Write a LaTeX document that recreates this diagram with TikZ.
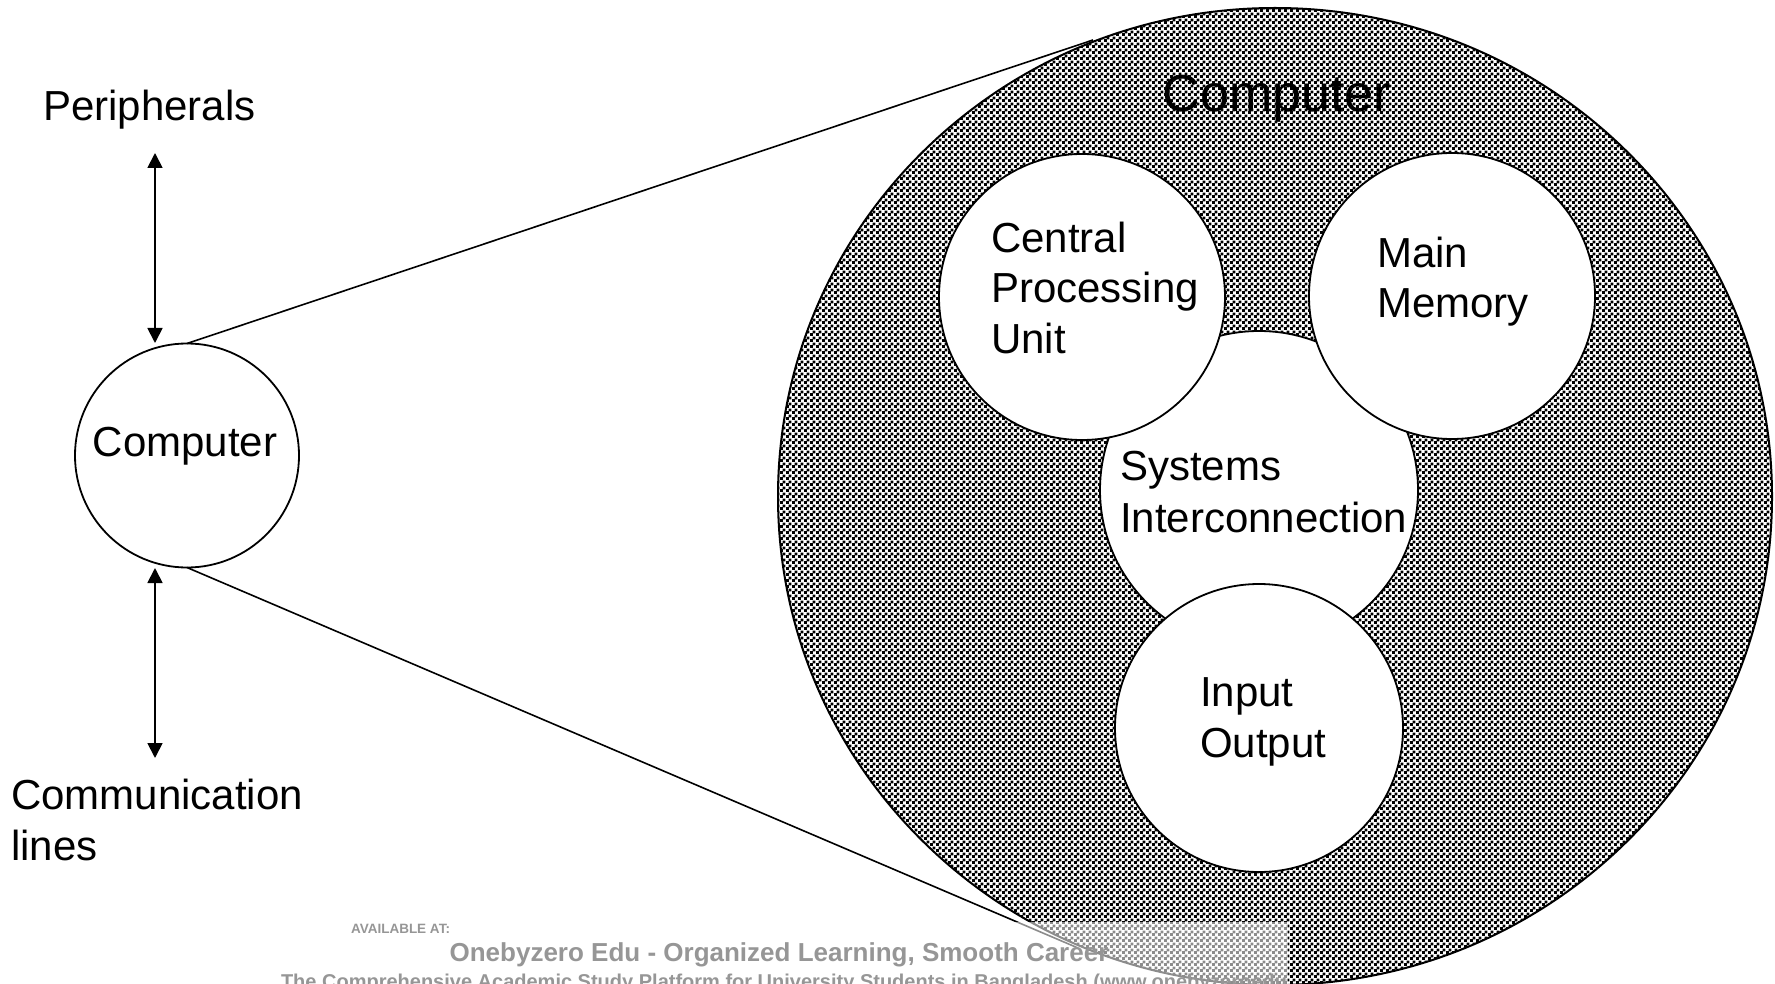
\documentclass[tikz,border=0pt]{standalone}
\usepackage{fontspec}
\setmainfont{Liberation Sans}
\usetikzlibrary{arrows.meta,patterns,shapes.geometric}
\pgfdeclarepatternformonly{checker}{\pgfpointorigin}{\pgfpoint{6pt}{6pt}}{\pgfpoint{6pt}{6pt}}{%
  \pgfpathrectangle{\pgfpointorigin}{\pgfpoint{3.3pt}{3.3pt}}%
  \pgfpathrectangle{\pgfpoint{3pt}{3pt}}{\pgfpoint{3.3pt}{3.3pt}}%
  \pgfusepath{fill}}
\definecolor{wm}{RGB}{150,150,150}
\begin{document}
\begin{tikzpicture}[x=1pt,y=-1pt,
  lbl/.style={font=\fontsize{42}{50.5}\selectfont, inner sep=0pt, outer sep=0pt},
  unit/.style={circle, draw, line width=1.8pt, fill=white, inner sep=0pt, outer sep=0pt},
  conn/.style={line width=1.6pt},
  dbl/.style={line width=1.8pt, {Triangle[width=15pt,length=15pt]}-{Triangle[width=15pt,length=15pt]}},
  wmtext/.style={text=wm, inner sep=0pt, outer sep=0pt}]
\useasboundingbox (0,0) rectangle (1775,984);
\clip (0,0) rectangle (1775,984);
\fill[white] (0,0) rectangle (1775,984);

% big computer
\node[ellipse, draw, line width=2pt, pattern=checker, minimum width=994pt, minimum height=977pt, inner sep=0pt, outer sep=0pt] (big) at (1275,496.5) {};
\node[font=\fontsize{52}{60}\selectfont, inner sep=0pt] (bigLbl) at (1277,112) [anchor=base] {Computer};

% components
\node[unit, minimum size=318pt] (si) at (1259,490) {};
\node[unit, minimum size=286pt] (cpu) at (1082,297) {};
\node[unit, minimum size=286pt] (mm) at (1452,296) {};
\node[unit, minimum size=288pt] (io) at (1259,728) {};

% multi-line labels: anchor = baseline of last line
\node[lbl, anchor=base west, align=left] (cpuLbl) at (991,353) {Central\\Processing\\Unit};
\node[lbl, anchor=base west, align=left] (mmLbl) at (1377,318) {Main\\Memory};
\node[lbl, anchor=base west, align=left, font=\fontsize{42}{52}\selectfont] (siLbl) at (1120,532) {Systems\\Interconnection};
\node[lbl, anchor=base west, align=left] (ioLbl) at (1200,757) {Input\\Output};

% small computer
\node[unit, minimum size=224pt] (small) at (187,455.5) {};
\node[lbl, anchor=base] (smallLbl) at (185,456) {Computer};

\coordinate (tt) at (1093,40);
\coordinate (tb) at (1078,948);
\draw[conn] (small.north) -- (tt);
\draw[conn] (small.south) -- (tb);

% peripherals and lines
\node[lbl, anchor=base west] (periph) at (43,121) {Peripherals};
\node[lbl, anchor=base west, align=left] (comm) at (11,860) {Communication\\lines};
\coordinate (pA) at (155,153);
\coordinate (pB) at (155,343);
\coordinate (cA) at (155,568);
\coordinate (cB) at (155,758);
\draw[dbl] (pA) -- (pB);
\draw[dbl] (cA) -- (cB);

% watermark
\fill[white, opacity=0.55] (250,922) rectangle (1288,984);
\node[wmtext, font=\bfseries\fontsize{13.5}{16}\selectfont, anchor=base west] (avail) at (351,933) {AVAILABLE AT:};
\node[wmtext, font=\bfseries\fontsize{26}{30}\selectfont, anchor=base] (brand) at (779,961) {Onebyzero Edu - Organized Learning, Smooth Career};
\begin{scope}
\clip (250,922) rectangle (1288,984);
\node[wmtext, font=\bfseries\fontsize{20}{24}\selectfont, anchor=base west] (platform) at (281,988) {The Comprehensive Academic Study Platform for University Students in Bangladesh (www.onebyzeroedu.com)};
\end{scope}
\end{tikzpicture}
\end{document}
